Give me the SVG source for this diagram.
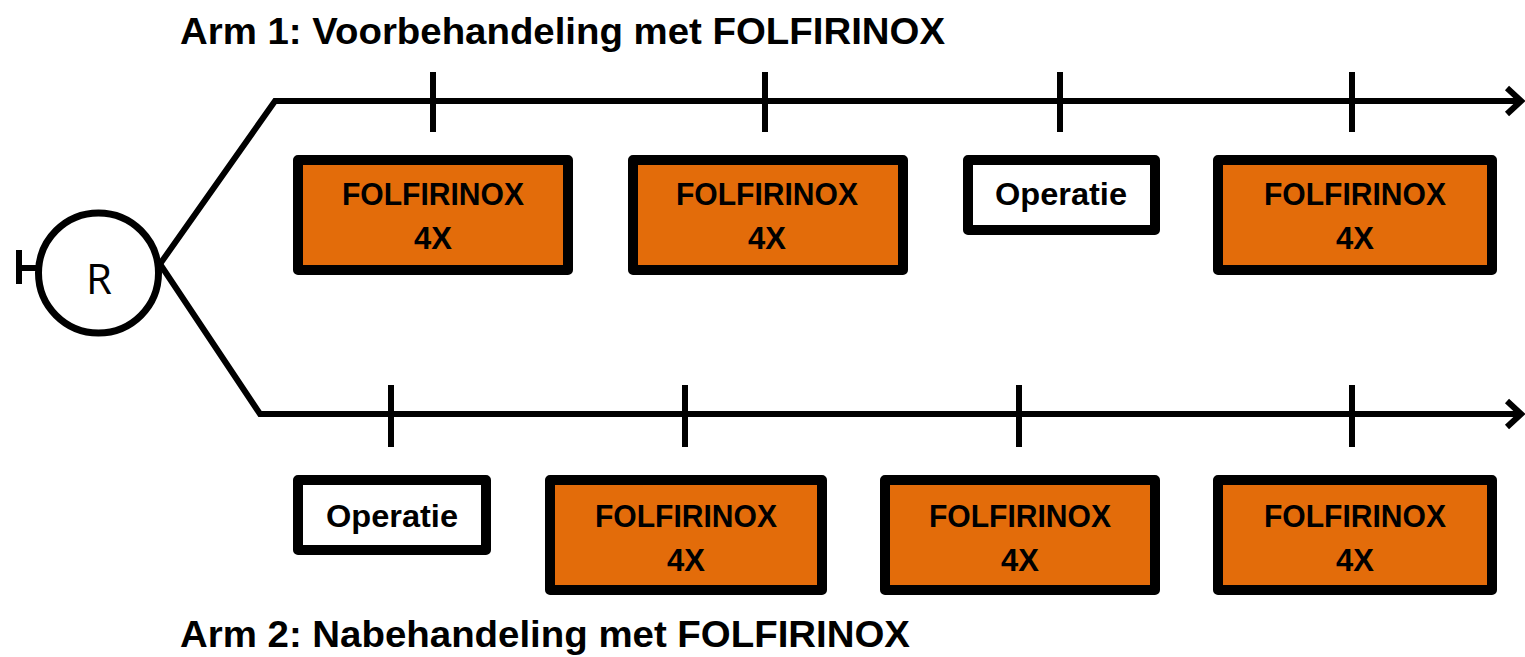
<svg xmlns="http://www.w3.org/2000/svg" width="1525" height="657" viewBox="0 0 1525 657">
<style>
.ln{stroke:#000;stroke-width:6;fill:none}
.tk{stroke:#000;stroke-width:6}
.box{stroke:#000;stroke-width:10;stroke-linejoin:round}
.or{fill:#E36C0A}
.wh{fill:#fff}
.t{font-family:"Liberation Sans",Arial,sans-serif;font-weight:bold;font-size:31px;text-anchor:middle;fill:#000}
.ttl{font-family:"Liberation Sans",Arial,sans-serif;font-weight:bold;font-size:36px;fill:#000}
</style>
<rect width="1525" height="657" fill="#fff"/>
<g id="connectors">
<path class="ln" d="M16 268 H38 M19 250 V284"/>
<path class="ln" d="M160 264 L275 101 H1520 M1507 88 L1521 101 L1507 114"/>
<path class="ln" d="M160 264 L260 414 H1520 M1507 401 L1521 414 L1507 427"/>
<path class="tk" d="M433 72 V132 M765 72 V132 M1060 72 V132 M1352 72 V132"/>
<path class="tk" d="M391 385 V447 M685 385 V447 M1019 385 V447 M1352 385 V447"/>
</g>
<g id="node-R">
<circle cx="98.5" cy="273" r="60" fill="#fff" stroke="#000" stroke-width="7"/>
<text x="99" y="294" font-family="'Open Sans','Liberation Sans',sans-serif" font-size="42" text-anchor="middle">R</text>
</g>
<g id="title1"><text class="ttl" x="180" y="44" textLength="765" lengthAdjust="spacingAndGlyphs">Arm 1: Voorbehandeling met FOLFIRINOX</text></g>
<g id="title2"><text class="ttl" x="180" y="647" textLength="730" lengthAdjust="spacingAndGlyphs">Arm 2: Nabehandeling met FOLFIRINOX</text></g>
<g id="a1b1"><rect class="box or" x="298" y="160" width="270" height="110"/><text class="t" x="433" y="205" textLength="182" lengthAdjust="spacingAndGlyphs">FOLFIRINOX</text><text class="t" x="433" y="249">4X</text></g>
<g id="a1b2"><rect class="box or" x="633" y="160" width="270" height="110"/><text class="t" x="767" y="205" textLength="182" lengthAdjust="spacingAndGlyphs">FOLFIRINOX</text><text class="t" x="767" y="249">4X</text></g>
<g id="a1op"><rect class="box wh" x="968" y="160" width="187" height="70"/><text class="t" x="1061" y="205" textLength="132" lengthAdjust="spacingAndGlyphs">Operatie</text></g>
<g id="a1b4"><rect class="box or" x="1218" y="160" width="274" height="110"/><text class="t" x="1355" y="205" textLength="182" lengthAdjust="spacingAndGlyphs">FOLFIRINOX</text><text class="t" x="1355" y="249">4X</text></g>
<g id="a2op"><rect class="box wh" x="298" y="480" width="188" height="70"/><text class="t" x="392" y="527" textLength="132" lengthAdjust="spacingAndGlyphs">Operatie</text></g>
<g id="a2b2"><rect class="box or" x="550" y="480" width="272" height="110"/><text class="t" x="686" y="527" textLength="182" lengthAdjust="spacingAndGlyphs">FOLFIRINOX</text><text class="t" x="686" y="571">4X</text></g>
<g id="a2b3"><rect class="box or" x="885" y="480" width="270" height="110"/><text class="t" x="1020" y="527" textLength="182" lengthAdjust="spacingAndGlyphs">FOLFIRINOX</text><text class="t" x="1020" y="571">4X</text></g>
<g id="a2b4"><rect class="box or" x="1218" y="480" width="274" height="110"/><text class="t" x="1355" y="527" textLength="182" lengthAdjust="spacingAndGlyphs">FOLFIRINOX</text><text class="t" x="1355" y="571">4X</text></g>
</svg>
